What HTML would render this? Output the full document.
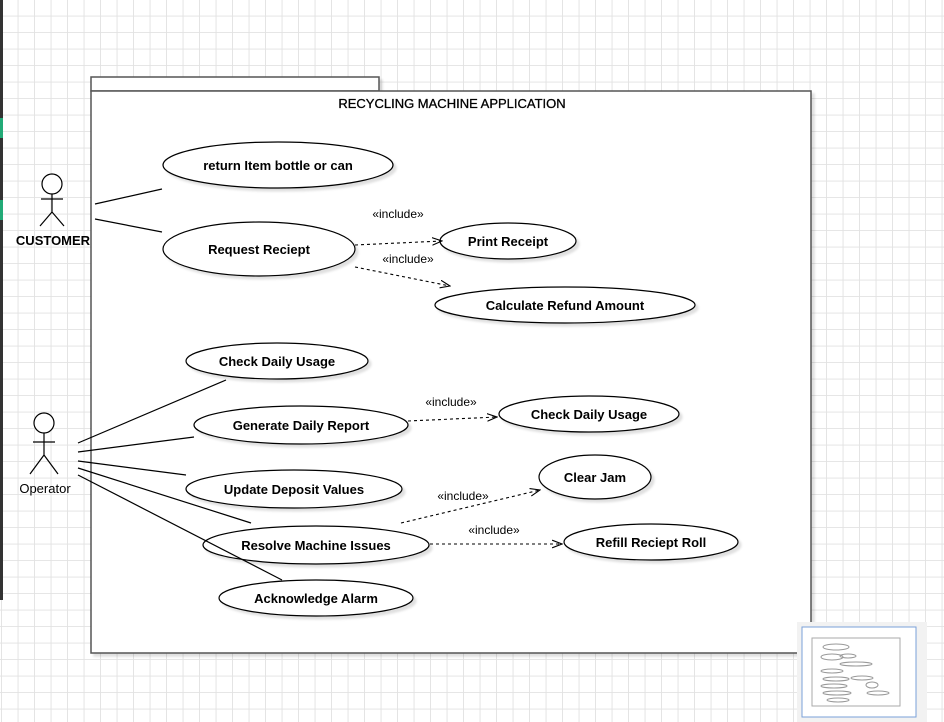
<!DOCTYPE html>
<html><head><style>
html,body{margin:0;padding:0;width:944px;height:722px;overflow:hidden;background:#fff}
svg text{font-family:"Liberation Sans",sans-serif;font-size:13px;fill:#000}
.b{font-weight:bold}
</style></head><body>
<svg width="944" height="722" xmlns="http://www.w3.org/2000/svg">
<defs>
<pattern id="g" x="2" y="0" width="16.5" height="16.5" patternUnits="userSpaceOnUse">
<path d="M16.5 0V16.5M0 16.5H16.5" stroke="#e2e2e2" stroke-width="1.8" fill="none"/>
</pattern>
<marker id="a" markerWidth="10" markerHeight="8" refX="9" refY="4" orient="auto"><path d="M0,0.5 L9,4 L0,7.5" fill="none" stroke="#000"/></marker>
<filter id="s"><feDropShadow dx="3" dy="3" stdDeviation="1" flood-color="#000" flood-opacity="0.12"/></filter>
</defs>
<rect width="944" height="722" fill="url(#g)"/>
<rect x="0" y="0" width="3" height="600" fill="#333"/>
<rect x="0" y="118" width="3" height="20" fill="#2a7"/>
<rect x="0" y="200" width="3" height="20" fill="#2a7"/>
<g filter="url(#s)">
<rect x="91" y="77" width="288" height="14" fill="#fff" stroke="#555" stroke-width="1.5"/>
<rect x="91" y="91" width="720" height="562" fill="#fff" stroke="#555" stroke-width="1.5"/>
</g>
<text x="452" y="108" text-anchor="middle" style="stroke:#000;stroke-width:0.3">RECYCLING MACHINE APPLICATION</text>
<g fill="#fff" stroke="#000" stroke-width="1.2" filter="url(#s)">
<ellipse cx="278" cy="165" rx="115" ry="23"/>
<ellipse cx="259" cy="249" rx="96" ry="27"/>
<ellipse cx="508" cy="241" rx="68" ry="18"/>
<ellipse cx="565" cy="305" rx="130" ry="18"/>
<ellipse cx="277" cy="361" rx="91" ry="18"/>
<ellipse cx="301" cy="425" rx="107" ry="19"/>
<ellipse cx="589" cy="414" rx="90" ry="18"/>
<ellipse cx="595" cy="477" rx="56" ry="22"/>
<ellipse cx="294" cy="489" rx="108" ry="19"/>
<ellipse cx="316" cy="545" rx="113" ry="19"/>
<ellipse cx="651" cy="542" rx="87" ry="18"/>
<ellipse cx="316" cy="598" rx="97" ry="18"/>
</g>
<g class="b" text-anchor="middle">
<text x="278" y="170" class="b">return Item bottle or can</text>
<text x="259" y="254" class="b">Request Reciept</text>
<text x="508" y="246" class="b">Print Receipt</text>
<text x="565" y="310" class="b">Calculate Refund Amount</text>
<text x="277" y="366" class="b">Check Daily Usage</text>
<text x="301" y="430" class="b">Generate Daily Report</text>
<text x="589" y="419" class="b">Check Daily Usage</text>
<text x="595" y="482" class="b">Clear Jam</text>
<text x="294" y="494" class="b">Update Deposit Values</text>
<text x="316" y="550" class="b">Resolve Machine Issues</text>
<text x="651" y="547" class="b">Refill Reciept Roll</text>
<text x="316" y="603" class="b">Acknowledge Alarm</text>
</g>
<g stroke="#000" stroke-width="1.2" fill="none">
<circle cx="52" cy="184" r="10" fill="#fff"/>
<path d="M52 194V212M41 199H63M52 212L40 226M52 212L64 226"/>
<circle cx="44" cy="423" r="10" fill="#fff"/>
<path d="M44 433V455M33 442H55M44 455L30 474M44 455L58 474"/>
<path d="M95 204L162 189M95 219L162 232"/>
<path d="M78 443L226 380M78 452L194 437M78 461L186 475M78 468L251 523M78 475L282 580"/>
</g>
<text x="53" y="245" text-anchor="middle" class="b">CUSTOMER</text>
<text x="45" y="493" text-anchor="middle">Operator</text>
<g stroke="#000" stroke-width="1.1" fill="none" stroke-dasharray="3,3" marker-end="url(#a)">
<path d="M355 245L442 241"/>
<path d="M355 267L450 286"/>
<path d="M408 421L497 417"/>
<path d="M401 523L540 490"/>
<path d="M430 544L562 544"/>
</g>
<g text-anchor="middle">
<text x="398" y="218" style="font-size:12px">«include»</text>
<text x="408" y="263" style="font-size:12px">«include»</text>
<text x="451" y="406" style="font-size:12px">«include»</text>
<text x="463" y="500" style="font-size:12px">«include»</text>
<text x="494" y="534" style="font-size:12px">«include»</text>
</g>
<rect x="797" y="622" width="130" height="100" fill="#f2f2f2"/>
<rect x="802" y="627" width="114" height="90" fill="#fff" stroke="#7aa0d8" stroke-width="1"/>
<rect x="812" y="638" width="88" height="68" fill="none" stroke="#aaa"/>
<g stroke="#999" stroke-width="1" fill="none">
<ellipse cx="836" cy="647" rx="13" ry="3"/><ellipse cx="832" cy="657" rx="11" ry="3"/>
<ellipse cx="848" cy="656" rx="8" ry="2"/><ellipse cx="856" cy="664" rx="16" ry="2"/>
<ellipse cx="832" cy="671" rx="11" ry="2"/><ellipse cx="836" cy="679" rx="13" ry="2"/>
<ellipse cx="862" cy="678" rx="11" ry="2"/><ellipse cx="834" cy="686" rx="13" ry="2"/>
<ellipse cx="872" cy="685" rx="6" ry="3"/><ellipse cx="837" cy="693" rx="14" ry="2"/>
<ellipse cx="878" cy="693" rx="11" ry="2"/><ellipse cx="838" cy="700" rx="11" ry="2"/>
</g>
</svg>
</body></html>
